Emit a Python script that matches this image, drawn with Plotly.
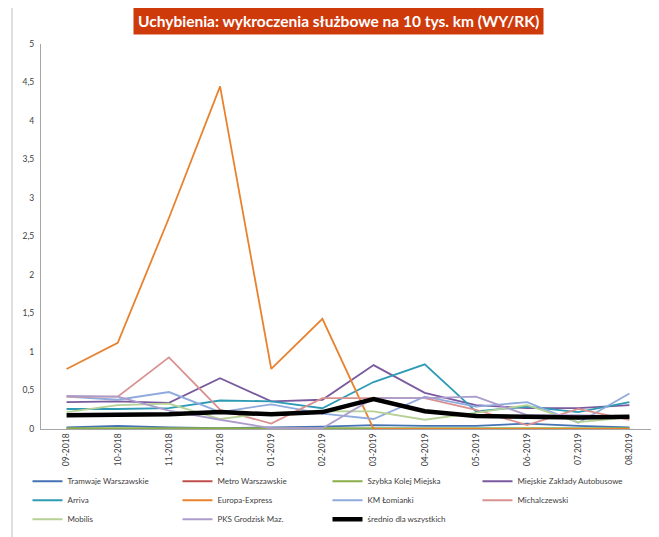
import plotly.graph_objects as go

# months on the category axis
months = ["09-2018", "10-2018", "11-2018", "12-2018", "01-2019", "02-2019",
          "03-2019", "04-2019", "05-2019", "06-2019", "07.2019", "08.2019"]

tramwaje = [0.02, 0.04, 0.02, 0.01, 0.02, 0.03, 0.05, 0.04, 0.04, 0.07, 0.04, 0.02]
metro = [0.0, 0.0, 0.0, 0.0, 0.0, 0.0, 0.0, 0.0, 0.0, 0.0, 0.0, 0.0]
skm = [0.01, 0.01, 0.01, 0.01, 0.01, 0.01, 0.01, 0.01, 0.01, 0.01, 0.01, 0.01]
mza = [0.35, 0.36, 0.34, 0.66, 0.36, 0.38, 0.83, 0.47, 0.31, 0.27, 0.27, 0.31]
arriva = [0.26, 0.26, 0.27, 0.37, 0.36, 0.27, 0.61, 0.84, 0.23, 0.29, 0.22, 0.35]
europa = [0.78, 1.12, 2.74, 4.45, 0.78, 1.43, 0.0, 0.0, 0.0, 0.0, 0.0, 0.0]
km_lomianki = [0.42, 0.38, 0.48, 0.22, 0.32, 0.20, 0.13, 0.42, 0.29, 0.35, 0.08, 0.46]
michalczewski = [0.42, 0.42, 0.93, 0.25, 0.07, 0.40, 0.40, 0.40, 0.25, 0.05, 0.26, 0.12]
mobilis = [0.22, 0.31, 0.33, 0.13, 0.21, 0.23, 0.23, 0.12, 0.21, 0.31, 0.09, 0.15]
pks = [0.43, 0.42, 0.24, 0.12, 0.01, 0.01, 0.40, 0.40, 0.42, 0.18, 0.18, 0.16]
srednio = [0.18, 0.19, 0.19, 0.22, 0.19, 0.22, 0.39, 0.23, 0.17, 0.16, 0.15, 0.16]

series = [
    ("Tramwaje Warszawskie", tramwaje, "#4472B4"),
    ("Metro Warszawskie", metro, "#C0504D"),
    ("Szybka Kolej Miejska", skm, "#8AAE4A"),
    ("Miejskie Zakłady Autobusowe", mza, "#7A5A9E"),
    ("Arriva", arriva, "#2E9BB5"),
    ("Europa-Express", europa, "#E8822F"),
    ("KM Łomianki", km_lomianki, "#8FAADC"),
    ("Michalczewski", michalczewski, "#D99190"),
    ("Mobilis", mobilis, "#B6D195"),
    ("PKS Grodzisk Maz.", pks, "#AC9CCC"),
]

fig = go.Figure()
for name, vals, col in series:
    fig.add_trace(go.Scatter(x=months, y=vals, name=name, mode="lines",
                             line=dict(color=col, width=1.8)))
fig.add_trace(go.Scatter(x=months, y=srednio, name="średnio dla wszystkich",
                         mode="lines", line=dict(color="black", width=4.5)))

# page body has an 8px margin, so the figure is drawn 8px smaller
fig.update_layout(
    width=651, height=529,
    margin=dict(l=33, r=4, t=36, b=108, autoexpand=False),
    plot_bgcolor="white", paper_bgcolor="white",
    separators=", ",
    font=dict(family="Lato", size=8.5, color="#404040"),
    legend=dict(orientation="h", x=-0.022, xanchor="left", y=-0.098, yanchor="top",
                entrywidth=105, tracegroupgap=0, itemwidth=30,
                font=dict(size=8, family="Lato")),
    showlegend=True,
)
fig.update_xaxes(range=[-0.5, 11.5], showline=True, linecolor="#A6A6A6", linewidth=1,
                 showgrid=False, tickangle=-90, ticks="", automargin=False,
                 tickfont=dict(size=8.5, color="#404040"))
fig.update_yaxes(range=[0, 5], dtick=0.5, tick0=0, showline=True, linecolor="#A6A6A6",
                 linewidth=1, showgrid=False, zeroline=False, ticks="", automargin=False,
                 ticklabelstandoff=4, tickfont=dict(size=8.5, color="#404040"))

# title box
fig.add_annotation(text="<b>Uchybienia: wykroczenia służbowe na 10 tys. km (WY/RK)</b>",
                   xref="paper", yref="paper", x=0.4845, y=1.06, xanchor="center",
                   yanchor="middle", showarrow=False, bgcolor="#CF3A0B",
                   font=dict(color="white", size=15.5, family="Lato"),
                   borderpad=4)

# chart frame (left and top edges)
fig.add_shape(type="line", xref="paper", yref="paper", x0=-0.0472, x1=-0.0472,
              y0=-0.3, y1=1.101, line=dict(color="#BFBFBF", width=1))
fig.add_shape(type="line", xref="paper", yref="paper", x0=-0.0472, x1=1.01,
              y0=1.101, y1=1.101, line=dict(color="#BFBFBF", width=1))

fig.write_html("out.html")
